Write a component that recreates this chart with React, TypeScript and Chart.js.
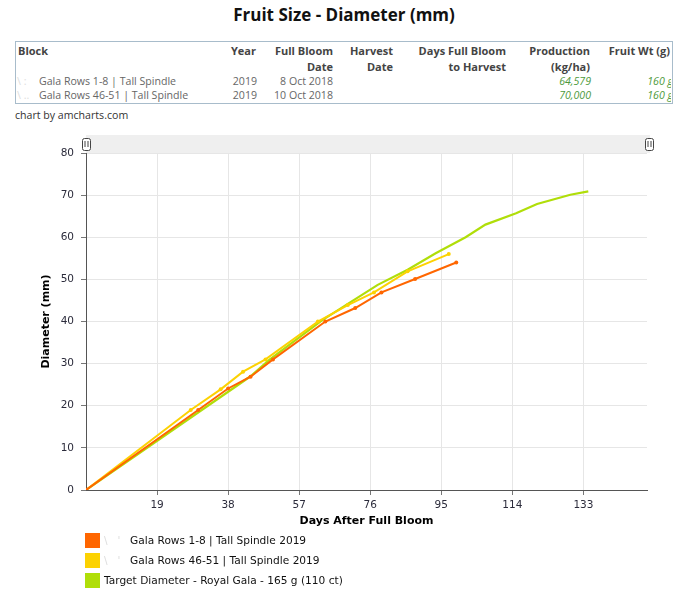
import { useEffect, useRef } from 'react';
import { Chart, registerables } from 'chart.js';
Chart.register(...registerables);

// ---- data ----
const rows18Days = [0, 30, 38, 44, 50, 64, 72, 79, 88, 99];
const rows18Diam = [0, 19.0, 24.1, 26.9, 31.0, 40.0, 43.2, 46.9, 50.1, 54.0];
const rows4651Days = [0, 28, 36, 42, 48, 62, 70, 77, 86, 97];
const rows4651Diam = [0, 19.0, 23.9, 28.1, 31.0, 40.0, 43.9, 46.9, 51.9, 56.0];
const targetDays = [0, 44, 49, 63, 70, 78, 86, 93.5, 101.5, 106.8, 115, 120.6, 129.5, 134.3];
const targetDiam = [0, 27.0, 30.9, 40.2, 44.2, 48.7, 52.3, 56.2, 60.0, 63.0, 65.7, 67.9, 70.1, 70.9];

const seriesNames = [
  'Gala Rows 1-8 | Tall Spindle 2019',
  'Gala Rows 46-51 | Tall Spindle 2019',
  'Target Diameter - Royal Gala - 165 g (110 ct)',
];
const seriesColors = ['#FF6600', '#FCD202', '#B0DE09'];
const xTickValues = [19, 38, 57, 76, 95, 114, 133];
const xMin = 0;
const xMax = 150;
const yMin = 0;
const yMax = 80;
const yStep = 10;

// table
const tableBlocks = ['Gala Rows 1-8 | Tall Spindle', 'Gala Rows 46-51 | Tall Spindle'];
const tableYears = ['2019', '2019'];
const tableBloom = ['8 Oct 2018', '10 Oct 2018'];
const tableProduction = ['64,579', '70,000'];
const tableFruitWt = ['160 g', '160 g'];

const toPts = (xs: number[], ys: number[]) => xs.map((x, i) => ({ x, y: ys[i] }));

const CANVAS_TOP = 125;
const TABLE_W = 671;

export default function App() {
  const ref = useRef<HTMLCanvasElement>(null);
  useEffect(() => {
    if (!ref.current) return;
    const drawGrip = (ctx: CanvasRenderingContext2D, cx: number, cy: number) => {
      const w = 8, h = 12;
      ctx.save();
      ctx.fillStyle = '#ffffff';
      ctx.strokeStyle = '#444';
      ctx.lineWidth = 1;
      ctx.beginPath();
      (ctx as any).roundRect(cx - w / 2 + 0.5, cy - h / 2 + 0.5, w, h, 2);
      ctx.fill();
      ctx.stroke();
      ctx.beginPath();
      ctx.moveTo(cx - 1, cy - 3);
      ctx.lineTo(cx - 1, cy + 3);
      ctx.moveTo(cx + 2, cy - 3);
      ctx.lineTo(cx + 2, cy + 3);
      ctx.stroke();
      ctx.restore();
    };
    const scrollbar = {
      id: 'scrollbar',
      beforeDraw(chart: any) {
        const { ctx, chartArea } = chart;
        ctx.save();
        ctx.fillStyle = '#efefef';
        ctx.fillRect(chartArea.left, 10, chartArea.right - chartArea.left + 3, chartArea.top - 10);
        ctx.restore();
      },
      afterDraw(chart: any) {
        const { ctx, chartArea } = chart;
        drawGrip(ctx, chartArea.left, 19);
        drawGrip(ctx, chartArea.right + 2, 19);
      },
    };
    const font = 'DejaVu Sans';
    const chart = new Chart(ref.current, {
      type: 'line',
      data: {
        datasets: [
          {
            label: seriesNames[0],
            data: toPts(rows18Days, rows18Diam),
            borderColor: seriesColors[0],
            backgroundColor: seriesColors[0],
            borderWidth: 2,
            pointRadius: 2,
            pointBorderWidth: 0,
            tension: 0,
          },
          {
            label: seriesNames[1],
            data: toPts(rows4651Days, rows4651Diam),
            borderColor: seriesColors[1],
            backgroundColor: seriesColors[1],
            borderWidth: 2,
            pointRadius: 2,
            pointBorderWidth: 0,
            tension: 0,
          },
          {
            label: seriesNames[2],
            data: toPts(targetDays, targetDiam),
            borderColor: seriesColors[2],
            backgroundColor: seriesColors[2],
            borderWidth: 2.2,
            pointRadius: 0,
            tension: 0,
          },
        ],
      },
      options: {
        animation: false,
        responsive: false,
        maintainAspectRatio: false,
        layout: { padding: { left: 0, right: 33, top: 28, bottom: 0 } },
        plugins: { legend: { display: false }, tooltip: { enabled: false } },
        scales: {
          x: {
            type: 'linear',
            min: xMin,
            max: xMax,
            afterBuildTicks: (s: any) => {
              s.ticks = xTickValues.map((v) => ({ value: v }));
            },
            afterFit: (s: any) => {
              s.height = 45;
            },
            grid: { color: '#e6e6e6', tickColor: '#777', tickLength: 5, lineWidth: 1 },
            border: { color: '#555', width: 1 },
            ticks: { color: '#2b2b3b', font: { family: font, size: 10.5 }, padding: 4, maxRotation: 0 },
            title: {
              display: true,
              text: 'Days After Full Bloom',
              color: '#000',
              font: { family: font, size: 11, weight: 'bold' },
              padding: { top: 0, bottom: 7 },
            },
          },
          y: {
            type: 'linear',
            min: yMin,
            max: yMax,
            ticks: { stepSize: yStep, color: '#2b2b3b', font: { family: font, size: 10.5 }, padding: 7 },
            afterFit: (s: any) => {
              s.width = 86;
            },
            grid: { color: '#e6e6e6', tickColor: '#777', tickLength: 5, lineWidth: 1 },
            border: { color: '#555', width: 1 },
            title: {
              display: true,
              text: 'Diameter (mm)',
              color: '#000',
              font: { family: font, size: 11, weight: 'bold' },
              padding: { top: 40, bottom: 0 },
            },
          },
        },
      },
      plugins: [scrollbar],
    } as any);
    return () => chart.destroy();
  }, []);

  const tf = "'Open Sans', sans-serif";
  const hdr: React.CSSProperties = {
    position: 'absolute',
    fontFamily: tf,
    fontSize: 11,
    fontWeight: 'bold',
    color: '#444',
    lineHeight: '16px',
    whiteSpace: 'nowrap',
  };
  const cell: React.CSSProperties = {
    position: 'absolute',
    fontFamily: tf,
    fontSize: 10.6,
    color: '#666',
    lineHeight: '14px',
    whiteSpace: 'nowrap',
  };
  const right = (r: number): React.CSSProperties => ({ right: TABLE_W - r, textAlign: 'right' });
  const legendFont = 'DejaVu Sans';

  return (
    <div style={{ position: 'absolute', left: 0, top: 0, width: 680, height: 590, background: '#fff', overflow: 'hidden' }}>
      <div
        style={{
          position: 'absolute',
          left: 4,
          top: 3,
          width: 680,
          textAlign: 'center',
          fontFamily: tf,
          fontWeight: 'bold',
          fontSize: 17,
          lineHeight: '24px',
          color: '#111',
        }}
      >
        Fruit Size - Diameter (mm)
      </div>
      <div style={{ position: 'absolute', left: 15, top: 41, width: 656, height: 61, border: '1px solid #a8bccb' }} />
      <div style={{ position: 'absolute', left: 0, top: 42, width: TABLE_W, height: 60, overflow: 'hidden' }}>
        <div style={{ ...hdr, left: 18, top: 1 }}>Block</div>
        <div style={{ ...hdr, ...right(256), top: 1 }}>Year</div>
        <div style={{ ...hdr, ...right(333), top: 1 }}>Full Bloom<br />Date</div>
        <div style={{ ...hdr, ...right(393), top: 1 }}>Harvest<br />Date</div>
        <div style={{ ...hdr, ...right(506), top: 1 }}>Days Full Bloom<br />to Harvest</div>
        <div style={{ ...hdr, ...right(590), top: 1 }}>Production<br />(kg/ha)</div>
        <div style={{ ...hdr, ...right(670), top: 1 }}>Fruit Wt (g)</div>
        {tableBlocks.map((b, i) => (
          <div key={'r' + i}>
            <div style={{ ...cell, left: 17, top: 32 + i * 14, color: '#ddd' }}>{i === 0 ? '\\  :' : '\\ ..'}</div>
            <div style={{ ...cell, left: 39, top: 32 + i * 14 }}>{b}</div>
            <div style={{ ...cell, ...right(257), top: 32 + i * 14 }}>{tableYears[i]}</div>
            <div style={{ ...cell, ...right(333), top: 32 + i * 14 }}>{tableBloom[i]}</div>
            <div style={{ ...cell, ...right(591), top: 32 + i * 14, color: '#4e9a3c', fontStyle: 'italic' }}>
              {tableProduction[i]}
            </div>
            <div style={{ ...cell, ...right(673), top: 32 + i * 14, color: '#4e9a3c', fontStyle: 'italic' }}>
              {tableFruitWt[i]}
            </div>
          </div>
        ))}
      </div>
      <div style={{ ...cell, left: 15, top: 108, color: '#333', fontSize: 10.6 }}>chart by amcharts.com</div>
      <canvas
        ref={ref}
        width={680}
        height={410}
        style={{ position: 'absolute', left: 0, top: CANVAS_TOP, width: 680, height: 410 }}
      />
      {seriesNames.map((n, i) => (
        <div key={'l' + i} style={{ position: 'absolute', left: 85, top: 533 + i * 20, height: 15 }}>
          <div style={{ position: 'absolute', left: 0, top: 0, width: 15, height: 15, background: seriesColors[i] }} />
          {i < 2 && (
            <div
              style={{
                position: 'absolute',
                left: 19,
                top: 0,
                fontFamily: legendFont,
                fontSize: 10.5,
                lineHeight: '15px',
                color: '#ddd',
                whiteSpace: 'nowrap',
              }}
            >
              \&nbsp;&nbsp;&nbsp;'
            </div>
          )}
          <div
            style={{
              position: 'absolute',
              left: i < 2 ? 45 : 19,
              top: 0,
              fontFamily: legendFont,
              fontSize: 10.6,
              lineHeight: '15px',
              color: '#111',
              whiteSpace: 'nowrap',
            }}
          >
            {n}
          </div>
        </div>
      ))}
    </div>
  );
}
